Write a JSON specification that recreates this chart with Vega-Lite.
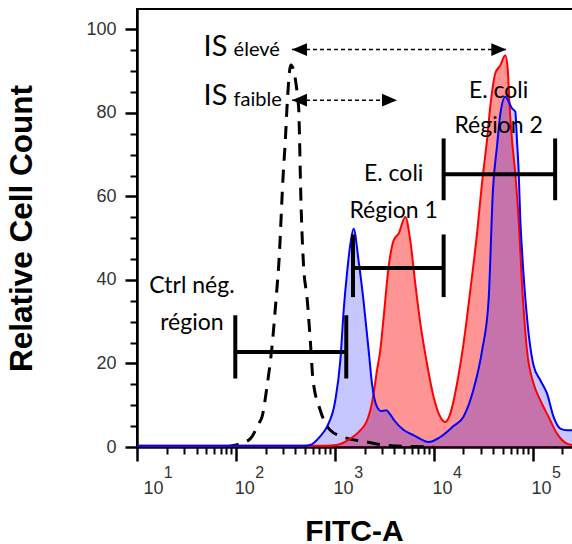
{
  "$schema": "https://vega.github.io/schema/vega-lite/v6.json",
  "width": 437,
  "height": 438,
  "autosize": {"type": "none"},
  "padding": {"left": 137, "top": 9, "right": 0, "bottom": 97},
  "background": "white",
  "config": {
    "view": {"stroke": "black", "strokeWidth": 2},
    "axis": {"grid": false, "domainColor": "black", "tickColor": "black", "labelFont": "Liberation Sans", "titleFont": "Liberation Sans", "labelFlush": false, "labelOverlap": false}
  },
  "datasets": {
    "red": [
      {"fitc": 10, "count": 0.3}, {"fitc": 100, "count": 0.3}, {"fitc": 794, "count": 0.3},
      {"fitc": 1047, "count": 0.5}, {"fitc": 1435, "count": 2}, {"fitc": 1811, "count": 4},
      {"fitc": 2089, "count": 6}, {"fitc": 2286, "count": 8.8}, {"fitc": 2466, "count": 12.8},
      {"fitc": 2673, "count": 18.4}, {"fitc": 2884, "count": 23.2}, {"fitc": 3119, "count": 31.1},
      {"fitc": 3499, "count": 43.1}, {"fitc": 3936, "count": 49.5}, {"fitc": 4416, "count": 51.1},
      {"fitc": 5164, "count": 55.1}, {"fitc": 5794, "count": 49.5}, {"fitc": 6516, "count": 39.1},
      {"fitc": 7328, "count": 29.6}, {"fitc": 8551, "count": 20}, {"fitc": 9977, "count": 12},
      {"fitc": 11670, "count": 7.2}, {"fitc": 13090, "count": 6}, {"fitc": 14720, "count": 8},
      {"fitc": 17220, "count": 15.2}, {"fitc": 20040, "count": 24.8}, {"fitc": 23440, "count": 37.5},
      {"fitc": 27420, "count": 51.1}, {"fitc": 30760, "count": 63.1}, {"fitc": 34590, "count": 73.5},
      {"fitc": 37330, "count": 81.5}, {"fitc": 41980, "count": 89.5}, {"fitc": 47100, "count": 91.4},
      {"fitc": 52970, "count": 93.8}, {"fitc": 55850, "count": 91}, {"fitc": 58610, "count": 81.5},
      {"fitc": 61940, "count": 73.5}, {"fitc": 66830, "count": 65.5}, {"fitc": 72280, "count": 54.3},
      {"fitc": 78160, "count": 39.1}, {"fitc": 87700, "count": 23.2}, {"fitc": 102300, "count": 15.2},
      {"fitc": 119700, "count": 11.2}, {"fitc": 145200, "count": 7.2}, {"fitc": 176600, "count": 3.2},
      {"fitc": 222800, "count": 0.8}, {"fitc": 262000, "count": 0.4}
    ],
    "blue": [
      {"fitc": 10, "count": 0.3}, {"fitc": 501, "count": 0.3}, {"fitc": 565, "count": 0.5},
      {"fitc": 708, "count": 2.5}, {"fitc": 832, "count": 4.8}, {"fitc": 1012, "count": 11.2},
      {"fitc": 1138, "count": 20.8}, {"fitc": 1230, "count": 32.8}, {"fitc": 1327, "count": 41.5},
      {"fitc": 1445, "count": 49}, {"fitc": 1549, "count": 52.3}, {"fitc": 1738, "count": 44.7},
      {"fitc": 1950, "count": 35.1}, {"fitc": 2198, "count": 23.2}, {"fitc": 2377, "count": 15.2},
      {"fitc": 2673, "count": 9.6}, {"fitc": 2951, "count": 8.6}, {"fitc": 3311, "count": 8.8},
      {"fitc": 3631, "count": 7.8}, {"fitc": 3981, "count": 6.4}, {"fitc": 5012, "count": 4},
      {"fitc": 6310, "count": 2.8}, {"fitc": 8913, "count": 1.2}, {"fitc": 11670, "count": 2.4},
      {"fitc": 15850, "count": 5}, {"fitc": 19950, "count": 7.2}, {"fitc": 25120, "count": 13.6},
      {"fitc": 30900, "count": 23.2}, {"fitc": 35890, "count": 35.1}, {"fitc": 39810, "count": 62},
      {"fitc": 43650, "count": 72}, {"fitc": 47320, "count": 80}, {"fitc": 52970, "count": 83.9},
      {"fitc": 61940, "count": 81.1}, {"fitc": 66830, "count": 80.3}, {"fitc": 69500, "count": 73.5},
      {"fitc": 72440, "count": 65.5}, {"fitc": 75160, "count": 54.3}, {"fitc": 78160, "count": 47.1},
      {"fitc": 87700, "count": 31.1}, {"fitc": 102300, "count": 19.5}, {"fitc": 119700, "count": 16},
      {"fitc": 140000, "count": 12.8}, {"fitc": 163000, "count": 7.2}, {"fitc": 190500, "count": 4.4},
      {"fitc": 222800, "count": 4}, {"fitc": 262000, "count": 4}
    ],
    "ctrl": [
      {"fitc": 79.4, "count": 0}, {"fitc": 110.9, "count": 0.8}, {"fitc": 140, "count": 2},
      {"fitc": 170, "count": 5.6}, {"fitc": 183.7, "count": 7.2}, {"fitc": 206, "count": 14.4},
      {"fitc": 231.7, "count": 24}, {"fitc": 260.6, "count": 38.3}, {"fitc": 269, "count": 42.3},
      {"fitc": 301.3, "count": 65.6}, {"fitc": 316.2, "count": 73.5}, {"fitc": 328.9, "count": 81.5},
      {"fitc": 359, "count": 91.5}, {"fitc": 430.5, "count": 81.5}, {"fitc": 440.6, "count": 73.5},
      {"fitc": 447.7, "count": 65.5}, {"fitc": 484.2, "count": 43.1}, {"fitc": 523.6, "count": 35.9},
      {"fitc": 564.9, "count": 25.6}, {"fitc": 602.6, "count": 16}, {"fitc": 712.8, "count": 8.8},
      {"fitc": 901.6, "count": 4}, {"fitc": 1219, "count": 2.4}, {"fitc": 2118, "count": 1.2},
      {"fitc": 3388, "count": 0.4}, {"fitc": 10000, "count": 0}
    ],
    "gates": [
      {"lo": 98.6, "hi": 1306, "ymid": 22.76, "ybot": 16.4, "ytop": 31.55},
      {"lo": 1528, "hi": 12600, "ymid": 42.9, "ybot": 35.9, "ytop": 50.9},
      {"lo": 12600, "hi": 169000, "ymid": 65.3, "ybot": 59.1, "ytop": 73.9}
    ],
    "arrows": [
      {"lo": 369, "hi": 54200, "y": 95.2},
      {"lo": 369, "hi": 4256, "y": 83.06}
    ],
    "gatelabels": [
      {"x": 35.9, "y": 37.0, "t": "Ctrl nég."},
      {"x": 35.9, "y": 27.96, "t": "région"},
      {"x": 3936, "y": 63.7, "t": "E. coli"},
      {"x": 3936, "y": 54.9, "t": "Région 1"},
      {"x": 45300, "y": 83.7, "t": "E. coli"},
      {"x": 45300, "y": 75.1, "t": "Région 2"}
    ],
    "isbig": [
      {"x": 47.1, "y": 93.75, "t": "IS"},
      {"x": 47.1, "y": 81.9, "t": "IS"}
    ],
    "issmall": [
      {"x": 94.8, "y": 93.6, "t": "élevé"},
      {"x": 94.8, "y": 81.75, "t": "faible"}
    ]
  },
  "layer": [
    {
      "data": {"name": "red"},
      "mark": {"type": "area", "fill": "#ff0000", "fillOpacity": 0.42, "interpolate": "monotone"},
      "encoding": {
        "x": {"field": "fitc", "type": "quantitative", "scale": {"type": "log", "domain": [10, 262200], "nice": false},
          "axis": {"orient": "bottom", "values": [10, 100, 1000, 10000, 100000], "tickSize": 14, "tickWidth": 2.5, "domainWidth": 2.5,
            "labelExpr": "'10'", "labelAlign": "center",
            "labelOffset": {"condition": {"test": "datum.value == 10", "value": 16}, "value": 8.3},
            "labelBaseline": "alphabetic", "labelPadding": 32,
            "labelFontSize": 18, "labelColor": "#333333",
            "title": "FITC-A", "titleFontSize": 30, "titleFontWeight": "bold", "titleColor": "black",
            "titleX": 217, "titleY": 93, "titleBaseline": "alphabetic", "titleAlign": "center"}},
        "y": {"field": "count", "type": "quantitative", "scale": {"domain": [0, 104.9], "nice": false, "zero": true},
          "axis": {"orient": "left", "values": [0, 20, 40, 60, 80, 100], "tickSize": 12, "tickWidth": 2.5, "domainWidth": 2.5,
            "labelFontSize": 18, "labelColor": "#333333", "labelPadding": 9,
            "title": "Relative Cell Count", "titleFontSize": 31.5, "titleFontWeight": "bold", "titleColor": "black",
            "titleX": -106, "titleY": 219, "titleAngle": -90, "titleBaseline": "alphabetic", "titleAlign": "center"}}
      }
    },
    {
      "data": {"name": "blue"},
      "mark": {"type": "area", "fill": "#0000ff", "fillOpacity": 0.22, "interpolate": "monotone"},
      "encoding": {
        "x": {"field": "fitc", "type": "quantitative",
          "axis": {"orient": "bottom", "values": [20, 30, 40, 50, 60, 70, 80, 90, 200, 300, 400, 500, 600, 700, 800, 900, 2000, 3000, 4000, 5000, 6000, 7000, 8000, 9000, 20000, 30000, 40000, 50000, 60000, 70000, 80000, 90000, 200000],
            "tickSize": 7, "tickWidth": 2, "domain": false, "labels": false, "title": null}},
        "y": {"field": "count", "type": "quantitative",
          "axis": {"orient": "left", "values": [5, 10, 15, 25, 30, 35, 45, 50, 55, 65, 70, 75, 85, 90, 95],
            "tickSize": 7, "tickWidth": 2, "domain": false, "labels": false, "title": null}}
      }
    },
    {
      "data": {"name": "ctrl"},
      "mark": {"type": "line", "color": "black", "strokeWidth": 3, "strokeDash": [13, 9], "interpolate": "monotone"},
      "encoding": {
        "x": {"field": "fitc", "type": "quantitative",
          "axis": {"orient": "bottom", "values": [10, 100, 1000, 10000, 100000], "ticks": false, "tickSize": 0, "domain": false,
            "labelExpr": "'' + round(log(datum.value) / LN10)", "labelAlign": "center",
            "labelOffset": {"condition": {"test": "datum.value == 10", "value": 30.8}, "value": 23.3},
            "labelBaseline": "alphabetic",
            "labelPadding": 30, "labelFontSize": 16, "labelColor": "#333333", "title": null}},
        "y": {"field": "count", "type": "quantitative", "axis": null}
      }
    },
    {
      "data": {"name": "red"},
      "mark": {"type": "line", "color": "#ff0000", "strokeWidth": 2, "interpolate": "monotone"},
      "encoding": {
        "x": {"field": "fitc", "type": "quantitative", "axis": null},
        "y": {"field": "count", "type": "quantitative", "axis": null}
      }
    },
    {
      "data": {"name": "blue"},
      "mark": {"type": "line", "color": "#0000ff", "strokeWidth": 2, "interpolate": "monotone"},
      "encoding": {
        "x": {"field": "fitc", "type": "quantitative", "axis": null},
        "y": {"field": "count", "type": "quantitative", "axis": null}
      }
    },
    {
      "data": {"name": "gates"},
      "mark": {"type": "rule", "color": "black", "strokeWidth": 4},
      "encoding": {
        "x": {"field": "lo", "type": "quantitative", "axis": null},
        "x2": {"field": "hi"},
        "y": {"field": "ymid", "type": "quantitative", "axis": null}
      }
    },
    {
      "data": {"name": "gates"},
      "mark": {"type": "rule", "color": "black", "strokeWidth": 4},
      "encoding": {
        "x": {"field": "lo", "type": "quantitative", "axis": null},
        "y": {"field": "ybot", "type": "quantitative", "axis": null},
        "y2": {"field": "ytop"}
      }
    },
    {
      "data": {"name": "gates"},
      "mark": {"type": "rule", "color": "black", "strokeWidth": 4},
      "encoding": {
        "x": {"field": "hi", "type": "quantitative", "axis": null},
        "y": {"field": "ybot", "type": "quantitative", "axis": null},
        "y2": {"field": "ytop"}
      }
    },
    {
      "data": {"name": "arrows"},
      "mark": {"type": "rule", "color": "black", "strokeWidth": 1.5, "strokeDash": [4, 3]},
      "encoding": {
        "x": {"field": "lo", "type": "quantitative", "axis": null},
        "x2": {"field": "hi"},
        "y": {"field": "y", "type": "quantitative", "axis": null}
      }
    },
    {
      "data": {"name": "arrows"},
      "mark": {"type": "point", "shape": "M0,0L2,-0.85L2,0.85Z", "filled": true, "color": "black", "size": 225, "opacity": 1, "strokeWidth": 0},
      "encoding": {
        "x": {"field": "lo", "type": "quantitative", "axis": null},
        "y": {"field": "y", "type": "quantitative", "axis": null}
      }
    },
    {
      "data": {"name": "arrows"},
      "mark": {"type": "point", "shape": "M0,0L-2,-0.85L-2,0.85Z", "filled": true, "color": "black", "size": 225, "opacity": 1, "strokeWidth": 0},
      "encoding": {
        "x": {"field": "hi", "type": "quantitative", "axis": null},
        "y": {"field": "y", "type": "quantitative", "axis": null}
      }
    },
    {
      "data": {"name": "gatelabels"},
      "mark": {"type": "text", "font": "Lato", "fontSize": 23, "align": "center", "baseline": "alphabetic", "color": "black"},
      "encoding": {
        "x": {"field": "x", "type": "quantitative", "axis": null},
        "y": {"field": "y", "type": "quantitative", "axis": null},
        "text": {"field": "t"}
      }
    },
    {
      "data": {"name": "isbig"},
      "mark": {"type": "text", "font": "Lato", "fontSize": 29, "align": "left", "baseline": "alphabetic", "color": "black"},
      "encoding": {
        "x": {"field": "x", "type": "quantitative", "axis": null},
        "y": {"field": "y", "type": "quantitative", "axis": null},
        "text": {"field": "t"}
      }
    },
    {
      "data": {"name": "issmall"},
      "mark": {"type": "text", "font": "Lato", "fontSize": 20, "align": "left", "baseline": "alphabetic", "color": "black"},
      "encoding": {
        "x": {"field": "x", "type": "quantitative", "axis": null},
        "y": {"field": "y", "type": "quantitative", "axis": null},
        "text": {"field": "t"}
      }
    }
  ],
  "resolve": {"axis": {"x": "independent", "y": "independent"}}
}
